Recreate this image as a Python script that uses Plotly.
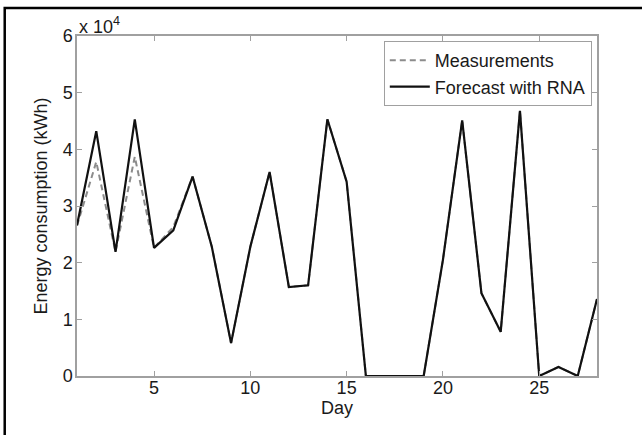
import plotly.graph_objects as go

days = list(range(1, 29))
measurements = [26500, 37800, 21900, 38700, 22600, 26300, 35200, 22800, 5800, 22800,
                36000, 15700, 16000, 45300, 34300, 0, 0, 0, 0, 20500,
                45100, 14600, 7800, 46800, 0, 1600, 0, 13600]
forecast = [26600, 43200, 21900, 45300, 22600, 25700, 35200, 22800, 5800, 22800,
            36000, 15700, 16000, 45300, 34300, 0, 0, 0, 0, 20500,
            45100, 14600, 7800, 46800, 0, 1600, 0, 13600]
y_ticks = [0, 1, 2, 3, 4, 5, 6]
x_ticks = [5, 10, 15, 20, 25]

FONT = "Liberation Sans, Arial, sans-serif"
AXIS_GRAY = "#a0a0a0"
TEXT = "#1a1a1a"

fig = go.Figure()
fig.add_trace(go.Scatter(x=days, y=[v / 1e4 for v in measurements], mode="lines",
                         name="Measurements",
                         line=dict(color="#8c8c8c", width=2, dash="6px,4px")))
fig.add_trace(go.Scatter(x=days, y=[v / 1e4 for v in forecast], mode="lines",
                         name="Forecast with RNA",
                         line=dict(color="#111111", width=2.2)))

axis_common = dict(showline=True, linecolor=AXIS_GRAY, linewidth=1.5, mirror="ticks",
                   ticks="inside", ticklen=5, tickcolor=AXIS_GRAY, tickwidth=1,
                   showgrid=False, zeroline=False,
                   tickfont=dict(family=FONT, size=18, color=TEXT))

fig.update_xaxes(range=[1, 28], tickvals=x_ticks, ticklabelstandoff=-5,
                 title=dict(text="Day", font=dict(family=FONT, size=18, color=TEXT), standoff=0),
                 **axis_common)
fig.update_yaxes(range=[0, 6], tickvals=y_ticks, ticklabelstandoff=-1,
                 title=dict(text="Energy consumption (kWh)", font=dict(family=FONT, size=18, color=TEXT), standoff=10),
                 **axis_common)

fig.add_annotation(xref="paper", yref="paper", x=0.0, y=1.0, xanchor="left", yanchor="bottom",
                   text="x 10<sup>4</sup>", showarrow=False, yshift=-3,
                   font=dict(family=FONT, size=18, color=TEXT))

# outer figure frame
fig.add_shape(type="rect", xref="paper", yref="paper",
              x0=-0.139, x1=1.2, y0=-0.3, y1=1.082,
              line=dict(color="black", width=2.5), fillcolor="rgba(0,0,0,0)", layer="above")

fig.update_layout(
    width=642, height=435,
    margin=dict(l=77, r=45, t=36, b=59, autoexpand=False),
    paper_bgcolor="white", plot_bgcolor="white",
    font=dict(family=FONT, size=18, color=TEXT),
    showlegend=True,
    legend=dict(x=0.99, y=0.985, xanchor="right", yanchor="top",
                bgcolor="white", bordercolor=AXIS_GRAY, borderwidth=1,
                font=dict(family=FONT, size=18, color=TEXT),
                tracegroupgap=0, itemwidth=40),
)

fig.write_html("out.html")
